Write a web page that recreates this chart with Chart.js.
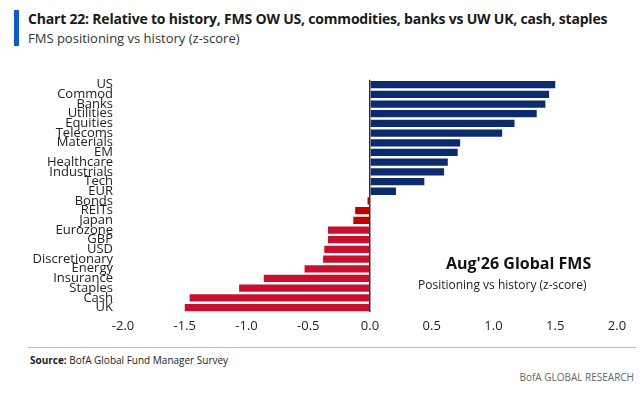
<!DOCTYPE html>
<html>
<head>
<meta charset="utf-8">
<script src="https://cdn.jsdelivr.net/npm/chart.js@4"></script>
<style>
  body { margin: 0; width: 642px; height: 400px; background: #fff; font-family: 'Open Sans', sans-serif; position: relative; overflow: hidden; }
  .bar { position: absolute; left: 14px; top: 10px; width: 5px; height: 36px; background: #0a5bd6; }
  .title { position: absolute; left: 28px; top: 9px; font-size: 14px; font-weight: bold; color: #1a1a1a; letter-spacing: -0.2px; }
  .sub { position: absolute; left: 28px; top: 29px; font-size: 13px; color: #333; }
  #wrap { position: absolute; left: 0; top: 70px; width: 642px; height: 270px; }
  .note1 { position: absolute; left: 446px; top: 252px; font-size: 16px; font-weight: bold; color: #111; }
  .note2 { position: absolute; left: 418px; top: 276px; font-size: 12px; color: #222; }
  .rule { position: absolute; left: 28px; top: 347px; width: 608px; height: 1px; background: #bbb; }
  .src { position: absolute; left: 30px; top: 353px; font-size: 10px; color: #222; }
  .brand { position: absolute; right: 8px; top: 370px; font-size: 10px; color: #666; }
</style>
</head>
<body>
<div class="bar"></div>
<div class="title">Chart 22: Relative to history, FMS OW US, commodities, banks vs UW UK, cash, staples</div>
<div class="sub">FMS positioning vs history (z-score)</div>
<div id="wrap"><canvas id="c"></canvas></div>
<div class="note1">Aug'26 Global FMS</div>
<div class="note2">Positioning vs history (z-score)</div>
<div class="rule"></div>
<div class="src"><b>Source:</b> BofA Global Fund Manager Survey</div>
<div class="brand">BofA GLOBAL RESEARCH</div>
<script>
const categories = ['US','Commod','Banks','Utilities','Equities','Telecoms','Materials','EM','Healthcare','Industrials','Tech','EUR','Bonds','REITs','Japan','Eurozone','GBP','USD','Discretionary','Energy','Insurance','Staples','Cash','UK'];
const zScores = [1.50,1.45,1.42,1.35,1.17,1.07,0.73,0.71,0.63,0.60,0.44,0.21,-0.02,-0.12,-0.135,-0.34,-0.34,-0.37,-0.38,-0.53,-0.86,-1.06,-1.46,-1.50];
const xTicks = [-2.0,-1.5,-1.0,-0.5,0.0,0.5,1.0,1.5,2.0];

const colors = zScores.map(v => v >= 0 ? '#0c2a6e' : (v > -0.2 ? '#c00000' : '#c8102e'));

new Chart(document.getElementById('c'), {
  type: 'bar',
  data: { labels: categories, datasets: [{ data: zScores, backgroundColor: colors, barPercentage: 0.75, categoryPercentage: 1 }] },
  options: {
    indexAxis: 'y',
    responsive: true,
    maintainAspectRatio: false,
    animation: false,
    layout: { padding: { left: 0, right: 25, top: 5, bottom: 0 } },
    plugins: { legend: { display: false }, tooltip: { enabled: false } },
    scales: {
      x: {
        min: -2, max: 2,
        afterBuildTicks: ax => { ax.ticks = xTicks.map(v => ({ value: v })); },
        ticks: { color: '#222', font: { size: 13, family: "'Open Sans'" }, callback: v => v.toFixed(1), padding: 6 },
        grid: { color: ctx => ctx.tick && ctx.tick.value === 0 ? '#333' : 'transparent', lineWidth: 1.5, drawTicks: false },
        border: { display: false }
      },
      y: {
        afterFit: ax => { ax.width = 123; },
        ticks: { autoSkip: false, color: '#222', font: { size: 13, family: "'Open Sans'" }, padding: 2 },
        grid: { display: false },
        border: { display: false }
      }
    }
  }
});
</script>
</body>
</html>
